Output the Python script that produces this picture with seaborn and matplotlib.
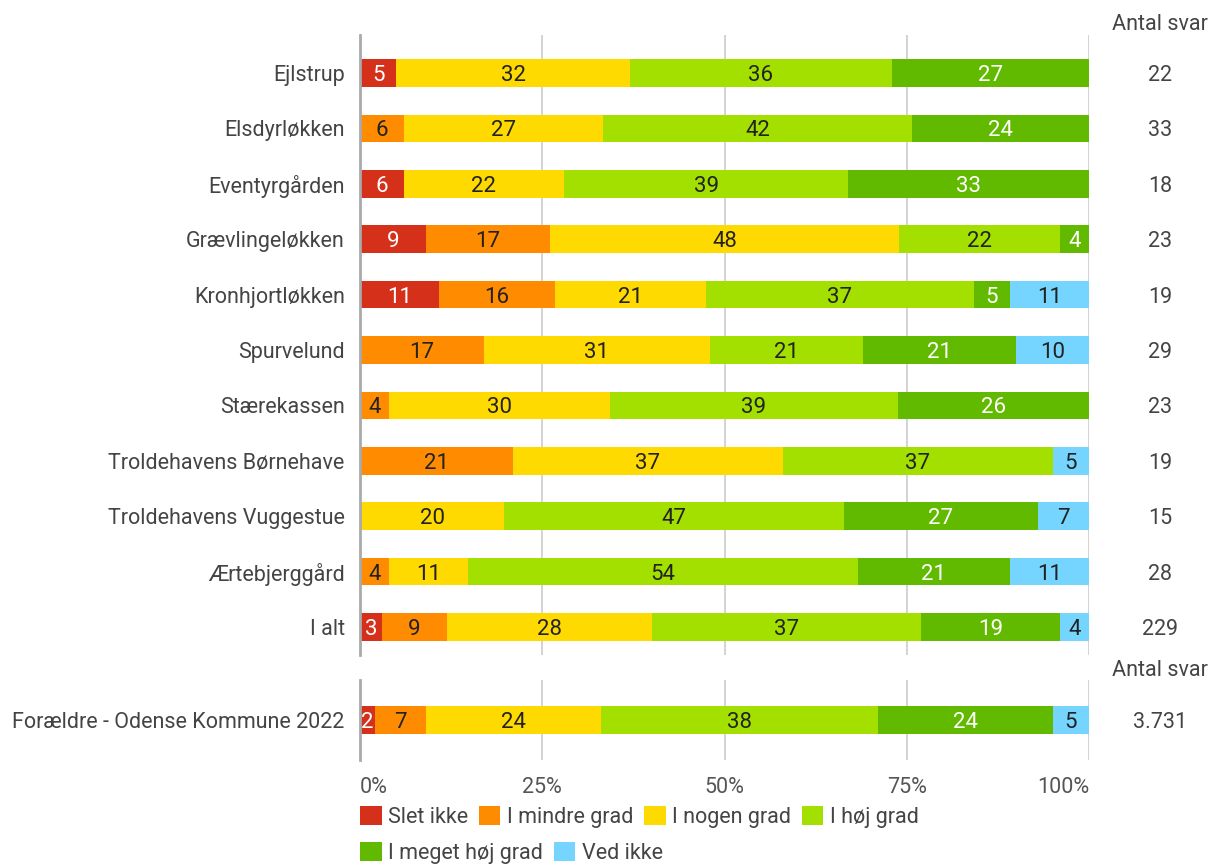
import numpy as np
import pandas as pd
import seaborn as sns
import matplotlib.pyplot as plt
from matplotlib.transforms import blended_transform_factory
from matplotlib.patches import Patch

# ---------------- data ----------------
categories = ["Ejlstrup", "Elsdyrløkken", "Eventyrgården", "Grævlingeløkken",
              "Kronhjortløkken", "Spurvelund", "Stærekassen",
              "Troldehavens Børnehave", "Troldehavens Vuggestue",
              "Ærtebjerggård", "I alt"]
series_names = ["Slet ikke", "I mindre grad", "I nogen grad", "I høj grad",
                "I meget høj grad", "Ved ikke"]

slet_ikke   = [5, 0, 6, 9, 11, 0, 0, 0, 0, 0, 3]
mindre_grad = [0, 6, 0, 17, 16, 17, 4, 21, 0, 4, 9]
nogen_grad  = [32, 27, 22, 48, 21, 31, 30, 37, 20, 11, 28]
hoej_grad   = [36, 42, 39, 22, 37, 21, 39, 37, 47, 54, 37]
meget_hoej  = [27, 24, 33, 4, 5, 21, 26, 0, 27, 21, 19]
ved_ikke    = [0, 0, 0, 0, 11, 10, 0, 5, 7, 11, 4]
antal_svar  = ["22", "33", "18", "23", "19", "29", "23", "19", "15", "28", "229"]

bench_categories = ["Forældre - Odense Kommune 2022"]
bench_slet_ikke = [2]
bench_mindre    = [7]
bench_nogen     = [24]
bench_hoej      = [38]
bench_meget     = [24]
bench_ved_ikke  = [5]
bench_antal     = ["3.731"]

tick_values = [0, 25, 50, 75, 100]
tick_labels = ["0%", "25%", "50%", "75%", "100%"]

colors = ["#D4301A", "#FF8C00", "#FFDA00", "#A3E000", "#62BA00", "#75D5FF"]
text_colors = ["white", "#222222", "#222222", "#222222", "white", "#222222"]

# ---------------- style ----------------
sns.set_style("white")
plt.rcParams['font.family'] = ['Roboto', 'DejaVu Sans']

FS = 15.5
W_PX, H_PX = 1211, 865
fig = plt.figure(figsize=(W_PX / 100, H_PX / 100), dpi=100)

x0, x1 = 360, 1089
L = x0 / W_PX
Wd = (x1 - x0) / W_PX
ax1 = fig.add_axes([L, 1 - 655 / H_PX, Wd, (655 - 35) / H_PX])
ax2 = fig.add_axes([L, 1 - 760 / H_PX, Wd, (760 - 680) / H_PX])


def draw(ax, cats, series, counts, header_y):
    vals = np.array(series, dtype=float).T
    widths = vals / vals.sum(axis=1, keepdims=True) * 100
    cum = widths.cumsum(axis=1)
    for k in range(len(series) - 1, -1, -1):
        df = pd.DataFrame({"cat": cats, "end": cum[:, k]})
        sns.barplot(data=df, x="end", y="cat", order=cats, color=colors[k],
                    saturation=1, width=0.5, orient="h", ax=ax, linewidth=0,
                    errorbar=None)
    for i in range(len(cats)):
        for k in range(len(series)):
            v = vals[i, k]
            if v > 0:
                ax.text(cum[i, k] - widths[i, k] / 2, i, f"{int(v)}",
                        ha="center", va="center_baseline", fontsize=16,
                        color=text_colors[k])
    tr = blended_transform_factory(ax.transAxes, ax.transData)
    cx = (1160 - x0) / (x1 - x0)
    for i, c in enumerate(counts):
        ax.text(cx, i, c, transform=tr, ha="center", va="center_baseline",
                fontsize=FS, color="#444444")
    ax.text(cx, header_y, "Antal svar", transform=ax.transAxes,
            ha="center", va="center_baseline", fontsize=FS, color="#444444")

    ax.set_xlim(0, 100)
    ax.set_xticks(tick_values)
    ax.set_xlabel("")
    ax.set_ylabel("")
    ax.xaxis.grid(True, color="#cccccc", linewidth=1.2)
    ax.yaxis.grid(False)
    ax.set_axisbelow(True)
    for s in ["top", "right", "bottom"]:
        ax.spines[s].set_visible(False)
    ax.spines["left"].set_color("#aaaaaa")
    ax.spines["left"].set_linewidth(2)
    ax.tick_params(axis="y", length=0, pad=11, labelsize=FS, labelcolor="#444444")
    ax.tick_params(axis="x", length=0)


draw(ax1, categories,
     [slet_ikke, mindre_grad, nogen_grad, hoej_grad, meget_hoej, ved_ikke],
     antal_svar, (655 - 22) / 620)
draw(ax2, bench_categories,
     [bench_slet_ikke, bench_mindre, bench_nogen, bench_hoej, bench_meget, bench_ved_ikke],
     bench_antal, (760 - 668) / 80)

row_px = (627 - 73) / 10
ax1.set_ylim(10 + 28 / row_px, -38 / row_px)
ax2.set_ylim(40 / row_px, -40 / row_px)

ax1.set_xticklabels([])
ax2.set_xticklabels(tick_labels, fontsize=FS, color="#555555")
ax2.tick_params(axis="x", pad=12)
lbls = ax2.get_xticklabels()
lbls[0].set_ha("left")
lbls[-1].set_ha("right")

# ---------------- legend ----------------
handles = [Patch(facecolor=c, edgecolor="none") for c in colors]
common = dict(loc="center left", frameon=False, fontsize=FS,
              handlelength=1.0, handleheight=1.0, handletextpad=0.3,
              columnspacing=0.5, borderaxespad=0, borderpad=0,
              labelcolor="#444444")
fig.legend(handles[:4], series_names[:4], ncol=4,
           bbox_to_anchor=(L, 1 - 817 / H_PX), **common)
fig.legend(handles[4:], series_names[4:], ncol=2,
           bbox_to_anchor=(L, 1 - 853 / H_PX), **common)

fig.savefig("out.png", dpi=100)
